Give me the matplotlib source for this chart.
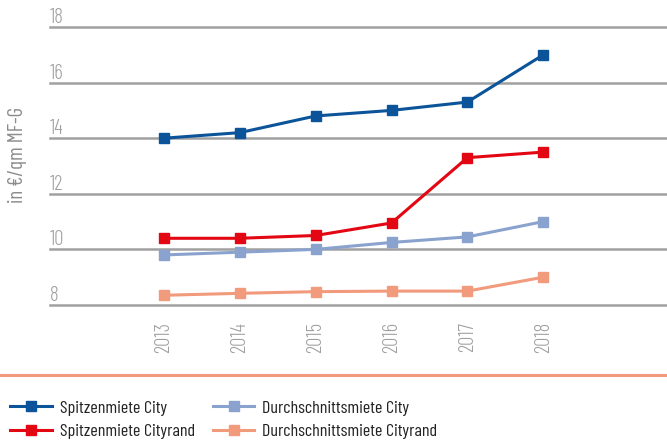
import matplotlib
matplotlib.use("Agg")
import matplotlib.pyplot as plt
from matplotlib.lines import Line2D
import matplotlib.transforms as mtransforms

plt.rcParams['font.family'] = ['Barlow Condensed', 'Roboto Condensed', 'DejaVu Sans']

years = [2013, 2014, 2015, 2016, 2017, 2018]
spitzen_city = [14.0, 14.2, 14.8, 15.0, 15.3, 17.0]
spitzen_cityrand = [10.4, 10.4, 10.5, 10.95, 13.3, 13.5]
durchschnitt_city = [9.8, 9.9, 10.0, 10.25, 10.45, 11.0]
durchschnitt_cityrand = [8.35, 8.42, 8.48, 8.5, 8.5, 9.0]
y_ticks = [8, 10, 12, 14, 16, 18]

series = [
    ("Spitzenmiete City", spitzen_city, "#0b5499"),
    ("Spitzenmiete Cityrand", spitzen_cityrand, "#e30613"),
    ("Durchschnittsmiete City", durchschnitt_city, "#8aa2ce"),
    ("Durchschnittsmiete Cityrand", durchschnitt_cityrand, "#f29a7c"),
]

fig = plt.figure(figsize=(6.67, 4.44), dpi=100)
ax = fig.add_axes([50/667, 1-305/444, 1-50/667, (305-27)/444])
ax.set_ylim(8, 18)
ax.set_xlim(2011.5, 2019.63)

grey = "#a0a0a0"
for v in y_ticks:
    ax.axhline(v, color=grey, lw=1.8, zorder=1, clip_on=False)
    ax.text(0.0, v, str(v), transform=mtransforms.blended_transform_factory(ax.transAxes, ax.transData),
            ha="left", va="bottom", fontsize=15, color="#a0a0a0", fontweight=300)

handles = []
for name, vals, c in series:
    h, = ax.plot(years, vals, color=c, lw=2.2, marker="s", markersize=7.5, label=name, zorder=3, clip_on=False)
    handles.append(h)

for s in ax.spines.values():
    s.set_visible(False)
ax.set_yticks([])
ax.set_xticks(years)
ax.set_xticklabels([str(y) for y in years], rotation=90, fontsize=15, color="#a0a0a0", va="top",
                   fontweight=300)
ax.tick_params(axis="x", length=0, pad=12)

fig.text(18/667, 1-155/444, "in €/qm MF-G", rotation=90, ha="center", va="center", fontsize=15, color="#8c8c8c")

fig.add_artist(Line2D([0, 1], [1-375/444, 1-375/444], color="#f29a7c", lw=2.2, transform=fig.transFigure))

fig.legend(handles=handles, ncol=2, loc="upper left", bbox_to_anchor=(10/667, 1-400/444),
           frameon=False, fontsize=13, handlelength=2.3, handletextpad=0.45, columnspacing=1.0,
           labelspacing=0.45, labelcolor="#222222", borderaxespad=0, borderpad=0)

fig.savefig("out.png", dpi=100)
